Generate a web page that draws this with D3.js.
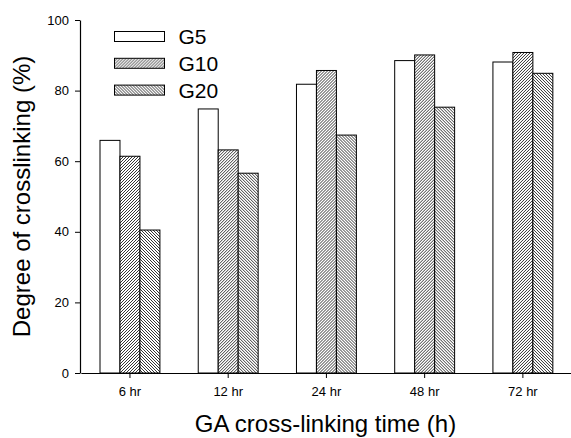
<!DOCTYPE html>
<html>
<head>
<meta charset="utf-8">
<script src="https://cdn.jsdelivr.net/npm/d3@7"></script>
<style>
  body { margin: 0; background: #fff; }
  text { font-family: Arial, "Liberation Sans", sans-serif; }
</style>
</head>
<body>
<div id="chart"></div>
<script>
// data
const times = ["6 hr", "12 hr", "24 hr", "48 hr", "72 hr"];
const series = ["G5", "G10", "G20"];
const g5 = [65.9, 74.8, 81.8, 88.5, 88.1];
const g10 = [61.4, 63.2, 85.7, 90.1, 90.8];
const g20 = [40.5, 56.6, 67.4, 75.3, 84.9];
const yTicks = [0, 20, 40, 60, 80, 100];

const W = 571, H = 438;
const margin = {top: 20, right: 0, bottom: 65, left: 80};

const svg = d3.select("#chart").append("svg")
  .attr("width", W)
  .attr("height", H);

// hatch patterns
const defs = svg.append("defs");
function hatch(id, forward) {
  const s = 3;
  const p = defs.append("pattern")
    .attr("id", id)
    .attr("patternUnits", "userSpaceOnUse")
    .attr("width", s).attr("height", s);
  p.append("rect").attr("width", s).attr("height", s).attr("fill", "#fff");
  p.append("path")
    .attr("d", forward
      ? `M-1,1 l2,-2 M0,${s} l${s},-${s} M${s - 1},${s + 1} l2,-2`
      : `M-1,${s - 1} l2,2 M0,0 l${s},${s} M${s - 1},-1 l2,2`)
    .attr("stroke", "#000")
    .attr("stroke-width", 0.8);
}
hatch("fwd", true);
hatch("back", false);
const fills = {G5: "#fff", G10: "url(#fwd)", G20: "url(#back)"};

const data = times.map((t, i) => ({time: t, G5: g5[i], G10: g10[i], G20: g20[i]}));

const x = d3.scaleBand()
  .domain(times)
  .range([margin.left + 0.85, W + 1])
  .paddingInner(0.39)
  .paddingOuter(0.195);

const xs = d3.scaleBand()
  .domain(series)
  .range([0, x.bandwidth()]);

const y = d3.scaleLinear()
  .domain([0, 100])
  .range([H - margin.bottom, margin.top]);

// bars
svg.append("g")
  .selectAll("g")
  .data(data)
  .join("g")
    .attr("transform", d => `translate(${x(d.time)},0)`)
  .selectAll("rect")
  .data(d => series.map(s => ({key: s, value: d[s]})))
  .join("rect")
    .attr("x", d => xs(d.key))
    .attr("y", d => y(d.value))
    .attr("width", xs.bandwidth())
    .attr("height", d => y(0) - y(d.value))
    .attr("fill", d => fills[d.key])
    .attr("stroke", "#000")
    .attr("stroke-width", 1);

// axes
const yAxis = svg.append("g")
  .attr("transform", `translate(${margin.left},0)`)
  .call(d3.axisLeft(y).tickValues(yTicks).tickSize(5).tickSizeOuter(0).tickPadding(6));

const xAxis = svg.append("g")
  .attr("transform", `translate(0,${y(0)})`)
  .call(d3.axisBottom(x).tickSize(5).tickSizeOuter(0).tickPadding(9));

[yAxis, xAxis].forEach(a => {
  a.select(".domain").attr("stroke", "#000").attr("stroke-width", 1.2);
  a.selectAll(".tick line").attr("stroke", "#000");
  a.selectAll(".tick text").attr("fill", "#000")
    .style("font-size", "13px")
    .style("font-family", "Arial, 'Liberation Sans', sans-serif");
});

// axis titles
svg.append("text")
  .attr("x", (margin.left + W) / 2)
  .attr("y", 432)
  .attr("text-anchor", "middle")
  .style("font-size", "24px")
  .text("GA cross-linking time (h)");

svg.append("text")
  .attr("transform", `translate(30,${(y(0) + y(100)) / 2}) rotate(-90)`)
  .attr("text-anchor", "middle")
  .style("font-size", "24px")
  .text("Degree of crosslinking (%)");

// legend
const legend = svg.append("g")
  .selectAll("g")
  .data(series)
  .join("g")
    .attr("transform", (d, i) => `translate(114.5,${31.5 + i * 26.8})`);

legend.append("rect")
  .attr("width", 50)
  .attr("height", 10)
  .attr("fill", d => fills[d])
  .attr("stroke", "#000");

legend.append("text")
  .attr("x", 64)
  .attr("y", 12.5)
  .style("font-size", "21px")
  .text(d => d);
</script>
</body>
</html>
